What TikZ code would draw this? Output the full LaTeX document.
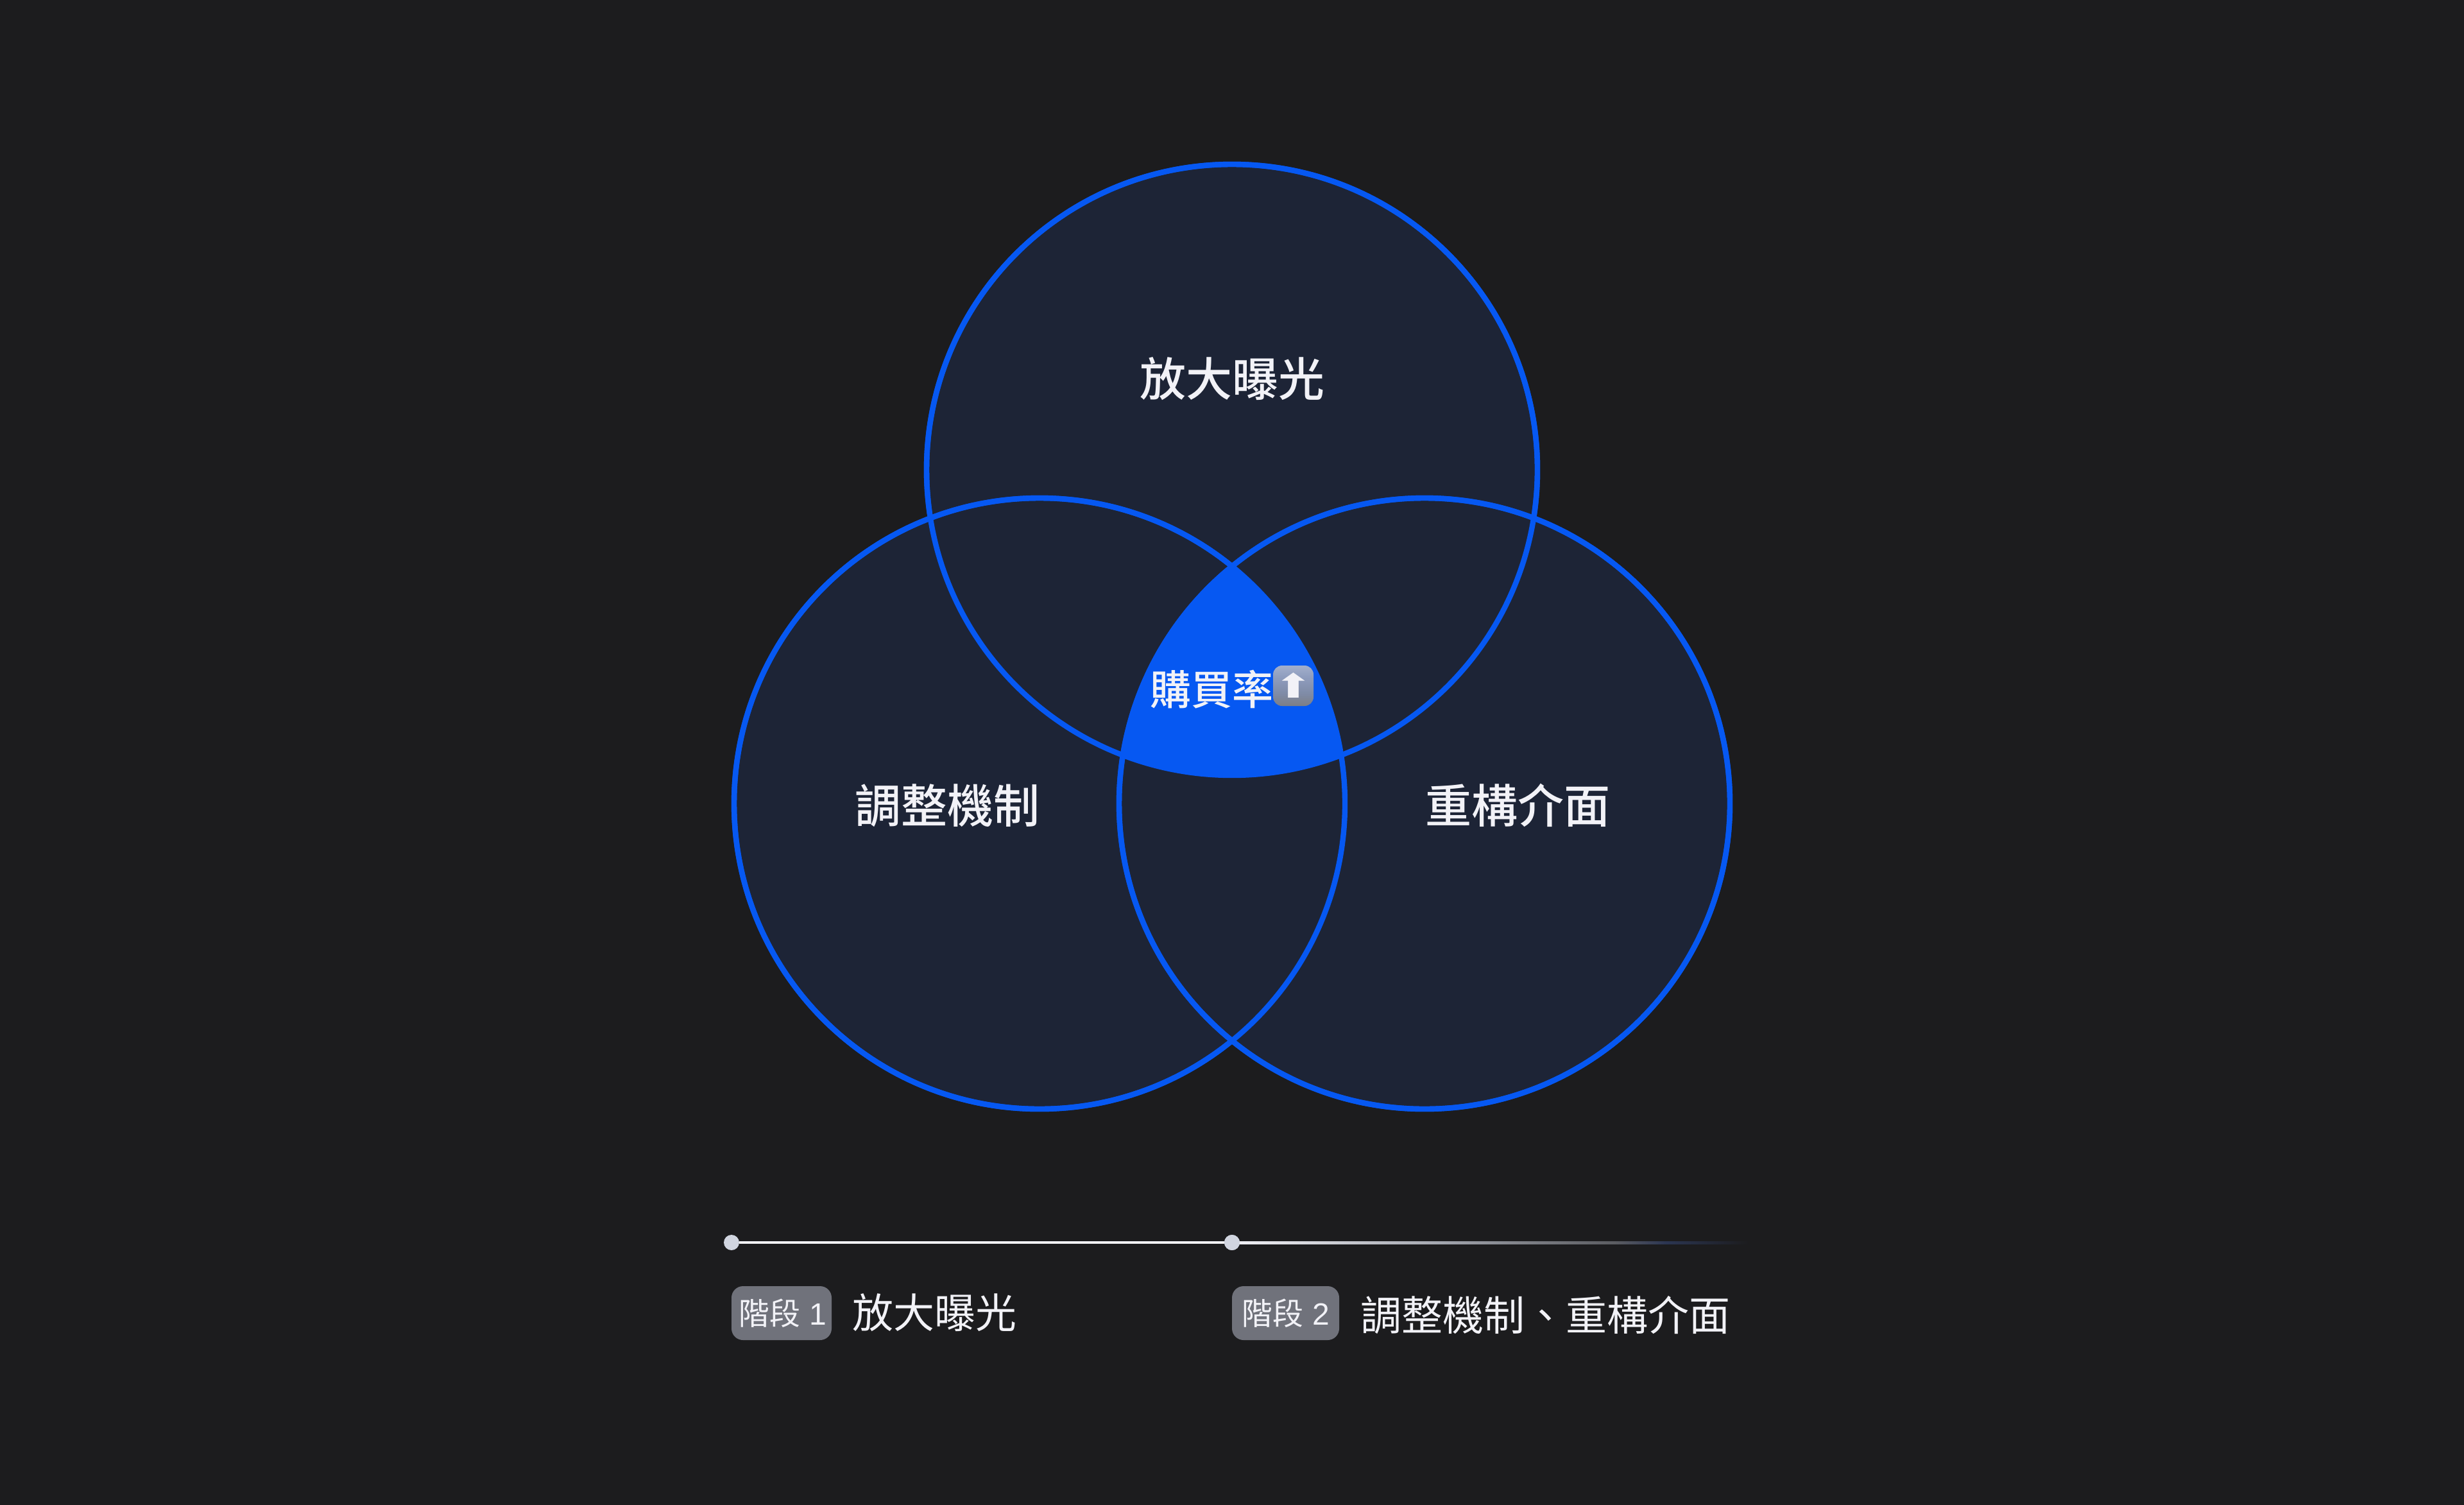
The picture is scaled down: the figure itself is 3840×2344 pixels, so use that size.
\documentclass[tikz,border=0pt]{standalone}
\usepackage{fontspec}
\usetikzlibrary{calc}
\newfontfamily\cjk{Noto Sans CJK TC}
\newfontfamily\cjkm{Noto Sans CJK TC Medium}
\newfontfamily\symb{DejaVu Sans}
\newfontfamily\digitf{Liberation Sans}
\definecolor{bgc}{HTML}{1C1C1E}
\definecolor{circf}{HTML}{1D2436}
\definecolor{blu}{HTML}{0658F2}
\definecolor{txt}{HTML}{F2F2F7}
\definecolor{dotc}{HTML}{D1D5E0}
\definecolor{badge}{HTML}{70727B}
\definecolor{navyend}{HTML}{2B3552}
\definecolor{ema}{HTML}{7C7E85}
\definecolor{emb}{HTML}{7F8BA6}
\definecolor{emc}{HTML}{8E9CBD}
\definecolor{emd}{HTML}{A2AFCC}
\pgfdeclarehorizontalshading{fadeline}{100bp}{
 color(0bp)=(txt); color(25bp)=(txt); color(45bp)=(dotc!75!bgc); color(55bp)=(dotc!50!bgc); color(62bp)=(dotc!35!bgc); color(67bp)=(navyend); color(75bp)=(bgc); color(100bp)=(bgc)}
\pgfdeclareverticalshading{emojig}{100bp}{
 color(0bp)=(ema); color(25bp)=(ema); color(40bp)=(emb); color(60bp)=(emc); color(75bp)=(emd); color(100bp)=(emd)}
\tikzset{
 x=0.25pt,y=-0.25pt,
 venn/.style={circle,draw=blu,line width=2.1pt,fill=circf,minimum size=238pt,inner sep=0pt,outer sep=0pt},
 ring/.style={circle,draw=blu,line width=2.1pt,minimum size=238pt,inner sep=0pt,outer sep=0pt},
 biglabel/.style={text=txt,font=\cjkm\fontsize{18}{18}\selectfont,inner sep=0pt},
 midlabel/.style={text=txt,font=\cjkm\fontsize{16}{16}\selectfont,inner sep=0pt},
 leglabel/.style={text=txt,font=\cjk\fontsize{16}{16}\selectfont,inner sep=0pt,anchor=west},
 badgebox/.style={fill=badge,rounded corners=4.5pt,text=txt,font=\cjk\fontsize{12}{12}\selectfont,inner sep=0pt,minimum height=21pt},
 stepdot/.style={circle,fill=dotc,minimum size=6pt,inner sep=0pt,outer sep=0pt},
}
\begin{document}
\begin{tikzpicture}
\useasboundingbox (0,0) rectangle (3840,2344);
\fill[bgc] (-20,-20) rectangle (3860,2364);
\node[venn] (t) at (1920,732) {};
\node[venn] (l) at (1620,1252) {};
\node[venn] (r) at (2220,1252) {};
\begin{scope}
 \clip (1920,732) circle[radius=476];
 \clip (1620,1252) circle[radius=476];
 \fill[blu] (2220,1252) circle[radius=476];
\end{scope}
\node[ring] at (1920,732) {};
\node[ring] at (1620,1252) {};
\node[ring] at (2220,1252) {};
\node[biglabel] (a) at (1920,590) {放大曝光};
\node[biglabel] (b) at (1476,1255) {調整機制};
\node[biglabel] (c) at (2365,1255) {重構介面};
\node[midlabel,anchor=east] (d) at (1985,1074) {購買率};
\shade[shading=emojig,rounded corners=3.5pt] (1984,1037) rectangle (2047,1100);
\node[text=txt,inner sep=0pt,font=\symb\fontsize{13}{13}\selectfont] (e) at (2016,1068) {\scalebox{1.4}[1]{⬆}};
\node[stepdot] (s1) at (1140,1936) {};
\node[stepdot] (s2) at (1920,1936) {};
\coordinate (s3) at (2725,1936);
\draw[txt,line width=1pt] (s1) -- (s2);
\shade[shading=fadeline] ($(s2.center)+(0,-2)$) rectangle ($(s3)+(0,2)$);
\node[stepdot] at (s2) {};
\node[badgebox,minimum width=39pt] (b1) at (1218,2046) {\hspace*{1pt}階段\hspace{3.5pt}{\digitf 1}};
\node[badgebox,minimum width=41.75pt] (b2) at (2003.5,2046) {階段\hspace{3.5pt}{\digitf 2}};
\node[leglabel] (l1) at (1328,2045) {放大曝光};
\node[leglabel] (l2) at (2120,2049) {調整機制、重構介面};
\end{tikzpicture}
\end{document}
